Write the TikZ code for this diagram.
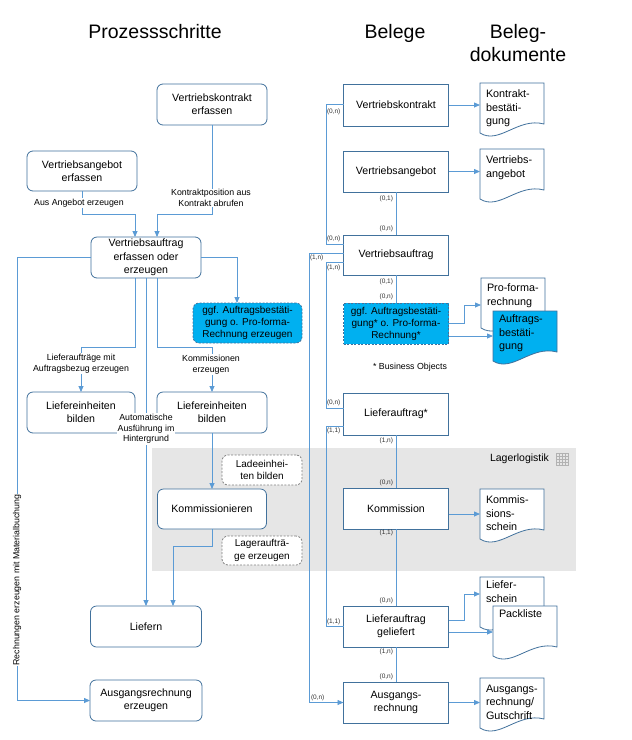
\documentclass[tikz,border=0pt]{standalone}
\usepackage{fontspec}
\setmainfont{Liberation Sans}
\usetikzlibrary{arrows.meta,calc}
\definecolor{conn}{HTML}{5B9BD5}
\definecolor{bord}{HTML}{41719C}
\definecolor{cyanf}{HTML}{00B0F0}
\definecolor{bandg}{HTML}{E6E6E6}
\definecolor{dashg}{HTML}{7F7F7F}
\newcommand\docsh[6]{%
  \node[docn] (#1) at (#2,#3) {};
  \draw[docline, fill=#4] (#1.south west) -- (#1.north west) -- (#1.north east) -- ($(#1.south east)+(0,-9)$) .. controls ($(#1.south west)+(38,-16)$) and ($(#1.south west)+(19,12)$) .. (#1.south west) -- cycle;
  \node[doctxt] (#1-t) at ($(#1.north west)+(6,#5)$) {#6};
}
\begin{document}
\begin{tikzpicture}[x=1pt,y=-1pt,
  every node/.style={inner sep=0pt, outer sep=0pt},
  boxfont/.style={font=\fontsize{10.6}{13.3}\selectfont},
  proc/.style={draw=bord, line width=0.8pt, rounded corners=6pt, fill=white, align=center, boxfont},
  procdash/.style={proc, draw=dashg, dash pattern=on 2pt off 1.5pt, font=\fontsize{10}{12.3}\selectfont},
  proccyan/.style={proc, fill=cyanf, draw=bord, dash pattern=on 2pt off 1.5pt, font=\fontsize{10}{12}\selectfont},
  beleg/.style={draw=bord, line width=0.8pt, fill=white, align=center, boxfont},
  belegcyan/.style={beleg, fill=cyanf, dash pattern=on 2pt off 1.5pt, font=\fontsize{10}{12}\selectfont},
  lbl/.style={fill=white, align=center, inner sep=1pt, font=\fontsize{8.8}{10.5}\selectfont},
  card/.style={font=\fontsize{6.5}{7}\selectfont, text=black!80},
  hdr/.style={font=\fontsize{19.5}{23}\selectfont, align=center, anchor=north},
  line/.style={draw=conn, line width=0.8pt},
  arr/.style={line, -{Triangle[width=5pt,length=6pt]}},
  docn/.style={minimum width=64pt, minimum height=50pt, anchor=north west},
  docline/.style={draw=bord, line width=0.8pt},
  doctxt/.style={align=left, anchor=north west, font=\fontsize{10.8}{13.3}\selectfont},
]
\useasboundingbox (0,0) rectangle (632,740);
\fill[white] (0,0) rectangle (632,740);

% grey band
\fill[bandg] (152,448) rectangle (576,571);
\node[anchor=east, font=\fontsize{10.5}{12}\selectfont] (lag) at (549,459) {Lagerlogistik};
\draw[black!30, line width=0.4pt] (556,453) rectangle (568,465);
\foreach \i in {1,2,3} {
  \draw[black!30, line width=0.4pt] ({556+3*\i},453) -- ({556+3*\i},465);
  \draw[black!30, line width=0.4pt] (556,{453+3*\i}) -- (568,{453+3*\i});
}

% headers
\node[hdr] (h1) at (155,24) {Prozessschritte};
\node[hdr] (h2) at (395,24) {Belege};
\node[hdr] (h3) at (518,24) {Beleg-\\dokumente};

% process steps
\node[proc, minimum width=110pt, minimum height=41pt] (pk) at (212,104.5) {Vertriebskontrakt\\erfassen};
\node[proc, minimum width=110pt, minimum height=40pt] (pa) at (82,171) {Vertriebsangebot\\erfassen};
\node[proc, minimum width=110pt, minimum height=41pt] (pv) at (146,257.5) {Vertriebsauftrag\\erfassen oder\\erzeugen};
\node[proccyan, minimum width=109pt, minimum height=40pt] (pb) at (247.5,323) {ggf. Auftragsbestäti-\\gung o. Pro-forma-\\Rechnung erzeugen};
\node[proc, minimum width=108pt, minimum height=41pt] (pl1) at (81,412.5) {Liefereinheiten\\bilden};
\node[proc, minimum width=110pt, minimum height=41pt] (pl2) at (212,412.5) {Liefereinheiten\\bilden};
\node[proc, minimum width=109pt, minimum height=40pt] (pko) at (212,509) {Kommissionieren};
\node[procdash, minimum width=80pt, minimum height=30pt] (pla) at (262,470) {Ladeeinhei-\\ten bilden};
\node[procdash, minimum width=80pt, minimum height=29pt] (plg) at (262,550.5) {Lageraufträ-\\ge erzeugen};
\node[proc, minimum width=111pt, minimum height=41pt] (pli) at (146,626.5) {Liefern};
\node[proc, minimum width=112pt, minimum height=41pt] (par) at (146,700.5) {Ausgangsrechnung\\erzeugen};

% process connectors
\draw[arr] (pa.south) -- ++(0,23) -| ($(pv.north)+(-11,0)$);
\draw[arr] (pk.south) -- ++(0,89.5) -| ($(pv.north)+(11,0)$);
\node[lbl] (l1) at (79,203) {Aus Angebot erzeugen};
\node[lbl] (l2) at (211,198) {Kontraktposition aus\\Kontrakt abrufen};
\draw[arr] (pv.west) -- ++(-74,0) |- (par.west);
\node[lbl, rotate=90] (l3) at (17,580) {Rechnungen erzeugen mit Materialbuchung};
\draw[arr] (pv.east) -| ($(pb.north)+(-10.5,0)$);
\draw[arr] ($(pv.south)+(-11,0)$) -- ++(0,69) -| (pl1.north);
\draw[arr] ($(pv.south)+(11,0)$) -- ++(0,69) -| (pl2.north);
\node[lbl] (l4) at (81,363.5) {Lieferaufträge mit\\Auftragsbezug erzeugen};
\node[lbl] (l5) at (211,364.5) {Kommissionen\\erzeugen};
\draw[arr] (pv.south) -- (pli.north);
\draw[arr] (pl2.south) -- (pko.north);
\draw[arr] (pko.south) -- ++(0,17) -| ($(pli.north)+(27,0)$);
\node[lbl] (l6) at (146,429) {Automatische\\Ausführung im\\Hintergrund};

% Belege
\node[beleg, minimum width=105pt, minimum height=42pt] (bk) at (396,105) {Vertriebskontrakt};
\node[beleg, minimum width=105pt, minimum height=41pt] (ba) at (396,171.5) {Vertriebsangebot};
\node[beleg, minimum width=105pt, minimum height=40pt] (bv) at (396,255) {Vertriebsauftrag};
\node[belegcyan, minimum width=105pt, minimum height=41pt] (bb) at (396,323.5) {ggf. Auftragsbestäti-\\gung* o. Pro-forma-\\Rechnung*};
\node[beleg, minimum width=105pt, minimum height=42pt] (bl) at (396,414) {Lieferauftrag*};
\node[beleg, minimum width=105pt, minimum height=41pt] (bko) at (396,508.5) {Kommission};
\node[beleg, minimum width=105pt, minimum height=41pt] (bg) at (396,626.5) {Lieferauftrag\\geliefert};
\node[beleg, minimum width=105pt, minimum height=41pt] (bar) at (396,702.5) {Ausgangs-\\rechnung};
\node[lbl, fill=none] (bo) at (410,367) {* Business Objects};

\draw[line] (ba.south) -- (bv.north);
\draw[line] (bv.south) -- (bb.north);
\draw[line] (bl.south) -- (bko.north);
\draw[line] (bko.south) -- (bg.north);
\draw[line] (bg.south) -- (bar.north);
\draw[line] ($(bk.west)+(0,-1)$) -- ++(-17.5,0) |- ($(bv.west)+(0,-11)$);
\draw[arr] ($(bv.west)+(0,-2)$) -- ++(-34.5,0) |- (bar.west);
\draw[line] ($(bv.west)+(0,7)$) -- ++(-17.5,0) |- ($(bl.west)+(0,-6)$);
\draw[line] ($(bl.west)+(0,12)$) -- ++(-17.5,0) |- (bg.west);

% cardinalities
\node[card, anchor=west] (c1) at (327,112) {(0,n)};
\node[card, anchor=east] (c2) at (393,199) {(0,1)};
\node[card, anchor=east] (c3) at (393,229) {(0,n)};
\node[card, anchor=west] (c4) at (327,239) {(0,n)};
\node[card, anchor=west] (c5) at (310,258) {(1,n)};
\node[card, anchor=west] (c6) at (327,268) {(1,n)};
\node[card, anchor=east] (c7) at (393,282) {(0,1)};
\node[card, anchor=east] (c8) at (393,297) {(0,n)};
\node[card, anchor=west] (c9) at (327,403) {(0,n)};
\node[card, anchor=west] (c10) at (327,431) {(1,1)};
\node[card, anchor=east] (c11) at (393,441) {(1,n)};
\node[card, anchor=east] (c12) at (393,483) {(0,n)};
\node[card, anchor=east] (c13) at (393,533) {(1,1)};
\node[card, anchor=east] (c14) at (393,601) {(0,n)};
\node[card, anchor=west] (c15) at (327,622) {(1,1)};
\node[card, anchor=east] (c16) at (393,652) {(1,n)};
\node[card, anchor=east] (c17) at (393,677) {(0,n)};
\node[card, anchor=west] (c18) at (311,698) {(0,n)};

% documents
\docsh{dk}{480}{83}{white}{7}{Kontrakt-\\bestäti-\\gung}
\docsh{da}{480}{149}{white}{7}{Vertriebs-\\angebot}
\docsh{dpf}{481}{278}{white}{6}{Pro-forma-\\rechnung}
\docsh{dab}{493}{311}{cyanf}{4}{Auftrags-\\bestäti-\\gung}
\docsh{dks}{480}{489}{white}{7}{Kommis-\\sions-\\schein}
\docsh{dls}{480}{577}{white}{4}{Liefer-\\schein}
\docsh{dpl}{493}{606}{white}{4}{Packliste}
\docsh{dar}{480}{678}{white}{7}{Ausgangs-\\rechnung/\\Gutschrift}

\draw[arr] (bk.east) -- (bk.east -| dk.west);
\draw[arr] (ba.east) -- (ba.east -| da.west);
\draw[arr] (bb.east) -- ++(16,0) |- ($(dpf.west)+(0,2)$);
\draw[arr] (bb.east |- dab.west) -- (dab.west);
\draw[arr] (bko.east |- dks.west) -- (dks.west);
\draw[arr] ($(bg.east)+(0,-6.5)$) -- ++(16,0) |- ($(dls.west)+(0,-8)$);
\draw[arr] ($(bg.east)+(0,5.5)$) -- ($(dpl.west)+(0,1)$);
\draw[arr] (bar.east) -- (bar.east -| dar.west);
\end{tikzpicture}
\end{document}
